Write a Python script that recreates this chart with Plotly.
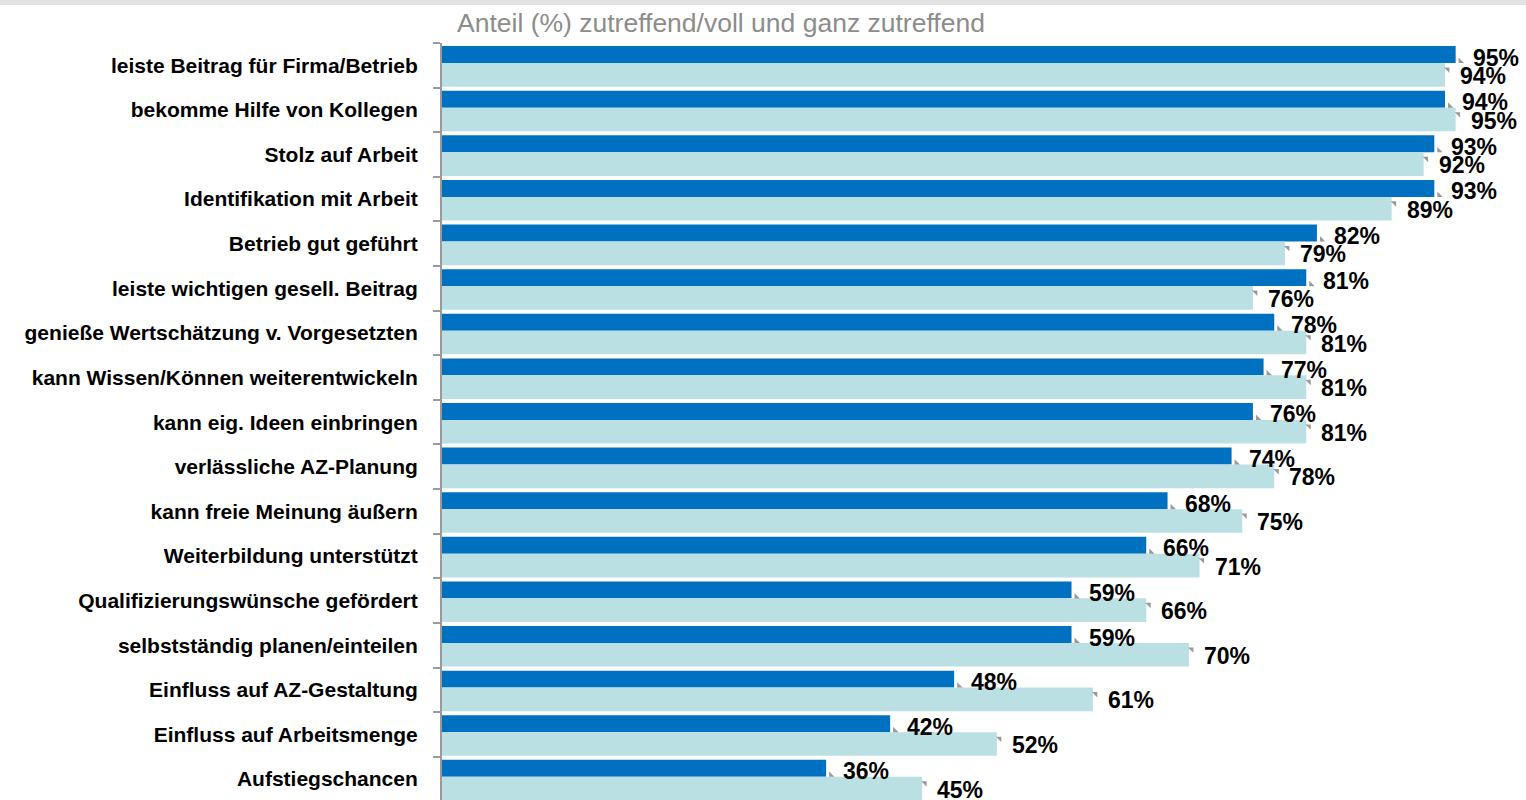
import plotly.graph_objects as go

categories = [
    "leiste Beitrag für Firma/Betrieb",
    "bekomme Hilfe von Kollegen",
    "Stolz auf Arbeit",
    "Identifikation mit Arbeit",
    "Betrieb gut geführt",
    "leiste wichtigen gesell. Beitrag",
    "genieße Wertschätzung v. Vorgesetzten",
    "kann Wissen/Können weiterentwickeln",
    "kann eig. Ideen einbringen",
    "verlässliche AZ-Planung",
    "kann freie Meinung äußern",
    "Weiterbildung unterstützt",
    "Qualifizierungswünsche gefördert",
    "selbstständig planen/einteilen",
    "Einfluss auf AZ-Gestaltung",
    "Einfluss auf Arbeitsmenge",
    "Aufstiegschancen",
]
series_dark = [95, 94, 93, 93, 82, 81, 78, 77, 76, 74, 68, 66, 59, 59, 48, 42, 36]
series_light = [94, 95, 92, 89, 79, 76, 81, 81, 81, 78, 75, 71, 66, 70, 61, 52, 45]
title_text = "Anteil (%) zutreffend/voll und ganz zutreffend"

DARK = "#0070C0"
LIGHT = "#BAE0E3"
GRAY = "#9a9a9a"

n = len(categories)
idx = list(range(n))
dark_off, dark_w = -0.24, 0.38
light_off, light_w = 0.215, 0.53

y_dark = [i + dark_off for i in idx]
y_light = [i + light_off for i in idx]

fig = go.Figure()
fig.add_trace(go.Bar(x=series_dark, y=y_dark, orientation="h", width=dark_w,
                     marker=dict(color=DARK, line=dict(width=0)), showlegend=False,
                     hoverinfo="x"))
fig.add_trace(go.Bar(x=series_light, y=y_light, orientation="h", width=light_w,
                     marker=dict(color=LIGHT, line=dict(width=0)), showlegend=False,
                     hoverinfo="x"))

# small gray leader marks near bar ends
fig.add_trace(go.Scatter(
    x=[v + 0.45 for v in series_dark],
    y=[y + dark_w / 2 - 0.04 for y in y_dark],
    mode="markers", marker=dict(symbol="triangle-sw", size=6, color=GRAY),
    showlegend=False, hoverinfo="skip", cliponaxis=False))
fig.add_trace(go.Scatter(
    x=[v + 0.25 for v in series_light],
    y=[y - light_w / 2 + 0.14 for y in y_light],
    mode="markers", marker=dict(symbol="triangle-ne", size=6, color=GRAY),
    showlegend=False, hoverinfo="skip", cliponaxis=False))

label_font = dict(family="Liberation Sans, Arial", size=23, color="black", weight="bold")
annotations = []
for v, y in zip(series_dark, y_dark):
    annotations.append(dict(x=v, y=y, xref="x", yref="y", text=f"{v}%", showarrow=False,
                            xanchor="left", yanchor="middle", xshift=15, yshift=-3,
                            font=label_font))
for v, y in zip(series_light, y_light):
    annotations.append(dict(x=v, y=y, xref="x", yref="y", text=f"{v}%", showarrow=False,
                            xanchor="left", yanchor="middle", xshift=13, yshift=-1,
                            font=label_font))

L, R, T = 442, 17, 43
W, H = 1526, 800
pw = W - L - R
ph = H - T
annotations.append(dict(x=(455 - L) / pw, y=1 + (T - 23) / ph, xref="paper", yref="paper",
                        text=title_text, showarrow=False, xanchor="left", yanchor="middle",
                        font=dict(family="Liberation Sans, Arial", size=26.5, color="#8c8c8c")))

shapes = [dict(type="rect", xref="paper", yref="paper",
               x0=-L / pw, x1=(W - L) / pw, y0=1 + (T - 5) / ph, y1=1 + T / ph + 0.01,
               fillcolor="#e3e3e3", line=dict(width=0), layer="below")]

fig.update_layout(
    width=W, height=H,
    margin=dict(l=L, r=R, t=T, b=0, pad=0),
    barmode="overlay",
    plot_bgcolor="white", paper_bgcolor="white",
    annotations=annotations, shapes=shapes,
    xaxis=dict(range=[0, 100], visible=False, fixedrange=True),
    yaxis=dict(
        range=[16.47, -0.5],
        tickmode="array", tickvals=idx, ticktext=categories,
        ticks="", showgrid=False, zeroline=False,
        showline=True, linecolor=GRAY, linewidth=2,
        ticklabelstandoff=18,
        tickfont=dict(family="Liberation Sans, Arial", size=21, color="black", weight="bold"),
        minor=dict(tickmode="array", tickvals=[i - 0.5 for i in range(n + 1)],
                   ticks="outside", ticklen=7, tickwidth=2, tickcolor=GRAY, showgrid=False),
        fixedrange=True,
    ),
)

fig.write_html("out.html", config={"displayModeBar": False},
               post_script="document.body.style.margin='0';document.body.style.overflow='hidden';")
